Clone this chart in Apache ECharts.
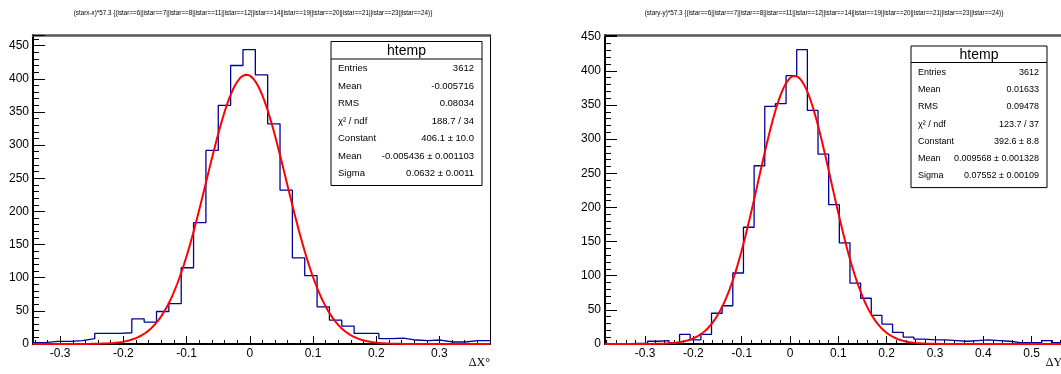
<!DOCTYPE html>
<html>
<head>
<meta charset="utf-8">
<script src="https://cdn.jsdelivr.net/npm/echarts@6/dist/echarts.min.js"></script>
<style>
html, body { margin: 0; padding: 0; background: #fff; }
#chart { width: 1061px; height: 374px; }
</style>
</head>
<body>
<div id="chart"></div>
<script>
// left pad: (starx-x)*57.3, 37 bins
const rangeX = [-0.343, 0.380]
const countsX = [2, 4, 4, 5, 8, 16, 16, 17, 38, 33, 49, 61, 115, 183, 292, 360, 420, 444,
                 406, 332, 232, 130, 103, 56, 36, 27, 16, 16, 8, 9, 6, 5, 6, 3, 3, 5, 5]
// gaus fit: Constant, Mean, Sigma (from the stats box)
const fitX = [406.1, -0.005436, 0.0632]

// right pad: (stary-y)*57.3, 43 bins
const rangeY = [-0.383, 0.565]
const countsY = [0, 0, 1, 1, 4, 5, 2, 14, 6, 14, 45, 56, 104, 171, 261, 348, 352, 393, 431,
                 342, 278, 204, 148, 89, 67, 42, 29, 17, 10, 7, 6, 6, 5, 4, 5, 6, 5, 4, 2, 2, 2, 5, 2]
const fitY = [392.6, 0.009568, 0.07552]

const yMaxX = 466
const yMaxY = 452.5

const titleX = '(starx-x)*57.3 {(istar==6||istar==7||istar==8||istar==11||istar==12||istar==14||istar==19||istar==20||istar==21||istar==23||istar==24)}'
const titleY = '(stary-y)*57.3 {(istar==6||istar==7||istar==8||istar==11||istar==12||istar==14||istar==19||istar==20||istar==21||istar==23||istar==24)}'

const statLabels = ['Entries', 'Mean', 'RMS', 'χ² / ndf', 'Constant', 'Mean', 'Sigma']
const statValuesX = ['3612', '-0.005716', '0.08034', '188.7 / 34', '406.1 ± 10.0', '-0.005436 ± 0.001103', '0.0632 ± 0.0011']
const statValuesY = ['3612', '0.01633', '0.09478', '123.7 / 37', '392.6 ± 8.8', '0.009568 ± 0.001328', '0.07552 ± 0.00109']

const FONT = 'Liberation Sans, Arial, sans-serif'

function histSteps(range, counts) {
    const w = (range[1] - range[0]) / counts.length
    let pts = counts.map((c, i) => [range[0] + i * w, c])
    pts.push([range[1], counts[counts.length - 1]])
    return pts
}

function gausCurve(range, p) {
    let pts = []
    const n = 400
    for (let i = 0; i <= n; i++) {
        let x = range[0] + (range[1] - range[0]) * i / n
        pts.push([x, p[0] * Math.exp(-0.5 * Math.pow((x - p[1]) / p[2], 2))])
    }
    return pts
}

function bottomAxis(grid, range, split, name) {
    return {
        type: 'value', gridIndex: grid, position: 'bottom',
        min: range[0], max: range[1], splitNumber: split,
        axisLine: { show: true, onZero: false, lineStyle: { color: '#000', width: 2 } },
        axisTick: { inside: true, length: 8, lineStyle: { color: '#000', width: 1 } },
        minorTick: { show: true, splitNumber: 5, length: 4, lineStyle: { color: '#000', width: 1 } },
        splitLine: { show: false },
        axisLabel: { showMinLabel: false, showMaxLabel: false, color: '#000', fontSize: 12, fontFamily: FONT, margin: 4 },
        name: name, nameLocation: 'end', nameGap: 0,
        nameTextStyle: { align: 'right', verticalAlign: 'top', padding: [13, 0, 0, 0],
                         fontFamily: 'Liberation Serif, serif', fontSize: 12, color: '#000' }
    }
}

function topAxis(grid, range) {
    return {
        type: 'value', gridIndex: grid, position: 'top',
        min: range[0], max: range[1],
        axisLine: { show: true, onZero: false, lineStyle: { color: '#555', width: 2.5 } },
        axisTick: { show: false }, axisLabel: { show: false }, splitLine: { show: false }
    }
}

function leftAxis(grid, max) {
    return {
        type: 'value', gridIndex: grid, position: 'left',
        min: 0, max: max, interval: 50,
        axisLine: { show: true, onZero: false, lineStyle: { color: '#000', width: 2 } },
        axisTick: { inside: true, length: 12, lineStyle: { color: '#000', width: 1 } },
        minorTick: { show: true, splitNumber: 5, length: 6, lineStyle: { color: '#000', width: 1 } },
        splitLine: { show: false },
        axisLabel: { showMaxLabel: false, color: '#000', fontSize: 12, fontFamily: FONT, margin: 4,
                     formatter: v => (v % 50 === 0 ? String(v) : '') }
    }
}

function rightAxis(grid, max) {
    return {
        type: 'value', gridIndex: grid, position: 'right',
        min: 0, max: max,
        axisLine: { show: true, onZero: false, lineStyle: { color: '#000', width: 1 } },
        axisTick: { show: false }, axisLabel: { show: false }, splitLine: { show: false }
    }
}

function statsBox(x, y, w, rowH, headH, values, labelSize) {
    let h = headH + rowH * statLabels.length + 4
    let els = [
        { type: 'rect', shape: { x: x, y: y, width: w, height: h },
          style: { fill: '#fff', stroke: '#000', lineWidth: 1 }, z: 100 },
        { type: 'line', shape: { x1: x, y1: y + headH, x2: x + w, y2: y + headH },
          style: { stroke: '#000', lineWidth: 1 }, z: 101 },
        { type: 'text', x: x + w / 2, y: y + headH / 2 + 1, z: 101,
          style: { text: 'htemp', fontSize: 14, fontFamily: FONT, fill: '#000', align: 'center', verticalAlign: 'middle' } }
    ]
    statLabels.forEach((lab, i) => {
        let cy = y + headH + rowH * (i + 0.5) + 1
        els.push({ type: 'text', x: x + 7, y: cy, z: 101,
            style: { text: lab, fontSize: labelSize, fontFamily: FONT, fill: '#000', align: 'left', verticalAlign: 'middle' } })
        els.push({ type: 'text', x: x + w - 8, y: cy, z: 101,
            style: { text: values[i], fontSize: labelSize, fontFamily: FONT, fill: '#000', align: 'right', verticalAlign: 'middle' } })
    })
    return els
}

let chart = echarts.init(document.getElementById('chart'), null, { renderer: 'canvas' })

const option = {
    animation: false,
    backgroundColor: '#fff',
    grid: [
        { left: 33, top: 35, width: 457, height: 309, outerBoundsMode: 'none' },
        // the right pad's frame runs just past the picture edge
        { left: 605, top: 35, width: 458, height: 309, outerBoundsMode: 'none' }
    ],
    xAxis: [
        bottomAxis(0, rangeX, 7, 'ΔX°'),
        topAxis(0, rangeX),
        bottomAxis(1, rangeY, 8, 'ΔY°'),
        topAxis(1, rangeY)
    ],
    yAxis: [
        leftAxis(0, yMaxX),
        rightAxis(0, yMaxX),
        leftAxis(1, yMaxY),
        rightAxis(1, yMaxY)
    ],
    series: [
        { type: 'line', xAxisIndex: 0, yAxisIndex: 0, step: 'end', symbol: 'none',
          lineStyle: { color: '#00009a', width: 1.3 }, data: histSteps(rangeX, countsX), z: 2 },
        { type: 'line', xAxisIndex: 0, yAxisIndex: 0, symbol: 'none', smooth: false,
          lineStyle: { color: '#ff0000', width: 2 }, data: gausCurve(rangeX, fitX), z: 3 },
        { type: 'line', xAxisIndex: 2, yAxisIndex: 2, step: 'end', symbol: 'none',
          lineStyle: { color: '#00009a', width: 1.3 }, data: histSteps(rangeY, countsY), z: 2 },
        { type: 'line', xAxisIndex: 2, yAxisIndex: 2, symbol: 'none', smooth: false,
          lineStyle: { color: '#ff0000', width: 2 }, data: gausCurve(rangeY, fitY), z: 3 }
    ],
    graphic: [
        { type: 'text', x: 253, y: 13, style: { text: titleX, fontSize: 6.3, fontFamily: FONT, fill: '#000', align: 'center', verticalAlign: 'middle' } },
        { type: 'text', x: 824, y: 13, style: { text: titleY, fontSize: 6.3, fontFamily: FONT, fill: '#000', align: 'center', verticalAlign: 'middle' } }
    ].concat(statsBox(331, 41.5, 151, 17.5, 17.5, statValuesX, 9.5))
     .concat(statsBox(911, 46, 136, 17.3, 16.5, statValuesY, 9))
}

chart.setOption(option)
</script>
</body>
</html>
